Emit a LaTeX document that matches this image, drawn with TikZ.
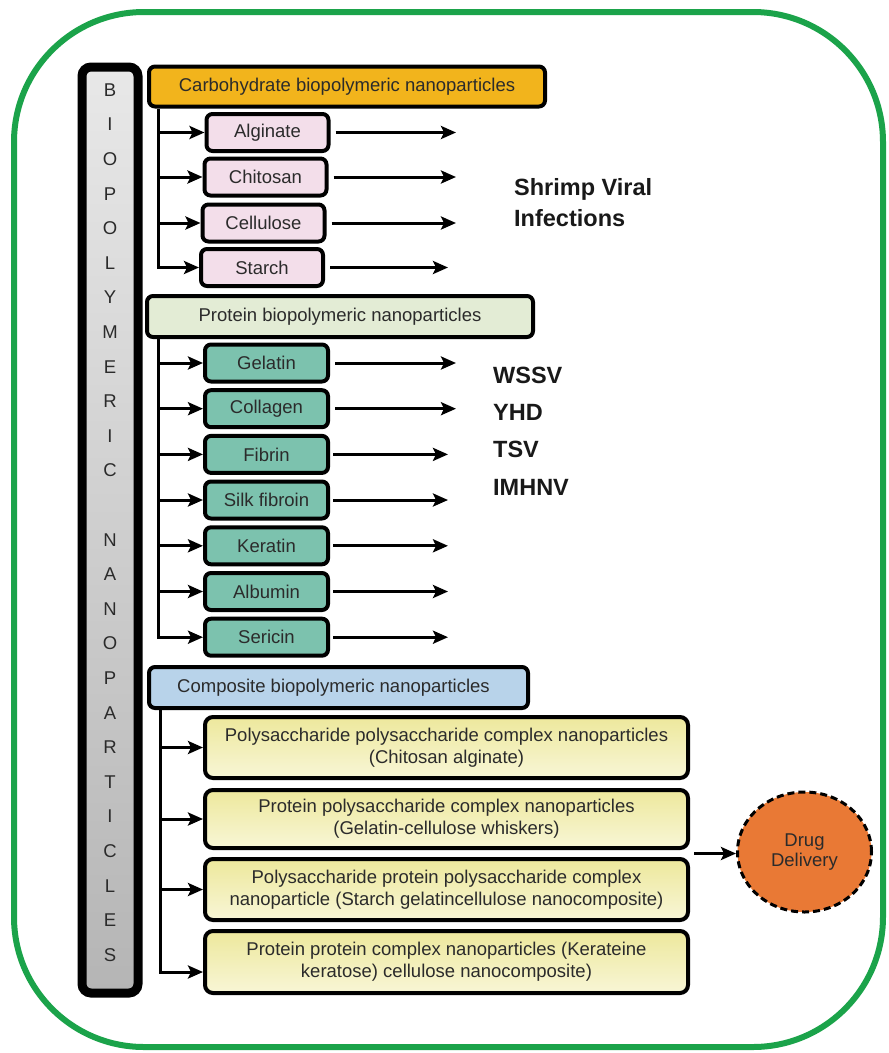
\documentclass[tikz,border=0pt]{standalone}
\usepackage{fontspec}
\setmainfont{Liberation Sans}
\usetikzlibrary{arrows.meta,calc,positioning,shapes.geometric}

\definecolor{framegreen}{HTML}{1BA34A}
\definecolor{textgray}{HTML}{2B2B2B}
\definecolor{carbfill}{HTML}{F2B41C}
\definecolor{pinkfill}{HTML}{F3DEEA}
\definecolor{protfill}{HTML}{E3ECD5}
\definecolor{tealfill}{HTML}{7CC2AE}
\definecolor{compfill}{HTML}{B8D3EA}
\definecolor{cplxtop}{HTML}{EDE89C}
\definecolor{cplxbot}{HTML}{F8F6D6}
\definecolor{drugfill}{HTML}{E97935}
\definecolor{barhi}{HTML}{E8E8E8}
\definecolor{barlo}{HTML}{B5B5B5}

\begin{document}
\begin{tikzpicture}[
  x=1pt, y=-1pt,
  font=\fontsize{18.5}{22}\selectfont,
  text=textgray,
  outerframe/.style={draw=framegreen, line width=6pt, rounded corners=130pt},
  barbox/.style={draw=black, line width=9pt, rounded corners=9pt,
                 top color=barhi, bottom color=barlo,
                 minimum width=56pt, minimum height=926pt, inner sep=0pt},
  head/.style={draw=black, line width=4pt, rounded corners=6pt,
               minimum height=40pt, inner sep=2pt},
  leaf/.style={draw=black, line width=4pt, rounded corners=6pt,
               minimum width=122pt, minimum height=37pt, inner sep=2pt},
  cplx/.style={draw=black, line width=4pt, rounded corners=8pt,
               minimum width=483pt, minimum height=61pt, align=center,
               top color=cplxtop, bottom color=cplxbot, inner sep=2pt},
  drugnode/.style={ellipse, draw=black, line width=3pt,
                   dash pattern=on 7pt off 4pt, fill=drugfill,
                   minimum width=134pt, minimum height=120pt, align=center,
                   font=\fontsize{18.5}{20}\selectfont},
  sig/.style={draw=black, line width=3pt,
              -{Stealth[length=15pt,width=13pt,inset=3pt]}},
  wire/.style={draw=black, line width=3pt},
  virus/.style={font=\fontsize{23.5}{31}\selectfont\bfseries,
                align=left, anchor=west, text=black!90, inner sep=0pt},
]
\useasboundingbox (0,0) rectangle (889,1053);

% ---------- outer frame ----------
\draw[outerframe] (14,12) rectangle (883,1047);

% ---------- vertical title bar ----------
\node[barbox] (bar) at (110,530) {};
\node[align=center, inner sep=0pt, font=\fontsize{18.5}{34.6}\selectfont,
      text=textgray] (title) at (110,522.5)
  {B\\I\\O\\P\\O\\L\\Y\\M\\E\\R\\I\\C\\[34.6pt]N\\A\\N\\O\\P\\A\\R\\T\\I\\C\\L\\E\\S};

% ---------- carbohydrate group ----------
\node[head, fill=carbfill, minimum width=396pt] (carb) at (347,86.5)
  {Carbohydrate biopolymeric nanoparticles};
\node[leaf, fill=pinkfill] (alg) at (267.5,132.5) {Alginate};
\node[leaf, fill=pinkfill] (chi) at (265.5,177) {Chitosan};
\node[leaf, fill=pinkfill] (cel) at (263.5,223) {Cellulose};
\node[leaf, fill=pinkfill] (sta) at (262,267.5) {Starch};

% ---------- protein group ----------
\node[head, fill=protfill, minimum width=386pt, minimum height=41pt] (prot) at (340,316.5)
  {Protein biopolymeric nanoparticles};
\node[leaf, fill=tealfill, minimum width=123pt] (gel) at (266.5,363) {Gelatin};
\node[leaf, fill=tealfill, minimum width=123pt] (col) at (266.5,408.7) {Collagen};
\node[leaf, fill=tealfill, minimum width=123pt] (fib) at (266.5,454.4) {Fibrin};
\node[leaf, fill=tealfill, minimum width=123pt] (silk) at (266.5,500) {Silk fibroin};
\node[leaf, fill=tealfill, minimum width=123pt] (ker) at (266.5,545.8) {Keratin};
\node[leaf, fill=tealfill, minimum width=123pt] (alb) at (266.5,591.5) {Albumin};
\node[leaf, fill=tealfill, minimum width=123pt] (ser) at (266.5,637.2) {Sericin};

% ---------- composite group ----------
\node[head, fill=compfill, minimum width=379pt, minimum height=41pt] (comp) at (338.5,687.5)
  {Composite biopolymeric nanoparticles\hspace*{10pt}};
\node[cplx] (cx1) at (446.5,747.5)
  {Polysaccharide polysaccharide complex nanoparticles\\(Chitosan alginate)};
\node[cplx, minimum height=58pt] (cx2) at (446.5,819)
  {Protein polysaccharide complex nanoparticles\\(Gelatin-cellulose whiskers)};
\node[cplx] (cx3) at (446.5,889.5)
  {Polysaccharide protein polysaccharide complex\\nanoparticle (Starch gelatincellulose nanocomposite)};
\node[cplx, minimum height=62pt] (cx4) at (446.5,962)
  {Protein protein complex nanoparticles (Kerateine\\keratose) cellulose nanocomposite)};

% ---------- outcome labels ----------
\node[virus] (shrimp) at (514,202.5) {Shrimp Viral\\Infections};
\node[virus, font=\fontsize{23.5}{37.3}\selectfont\bfseries] (viruses) at (493,431)
  {WSSV\\YHD\\TSV\\IMHNV};
\node[drugnode] (drug) at (804.5,852) {Drug\\Delivery};

% ---------- trunks and branch arrows ----------
\coordinate (carbtrunk) at ([xshift=11pt]carb.south west);
\draw[sig] (carbtrunk) -- (carbtrunk |- sta.west) -- (sta.west);
\draw[sig] (carbtrunk |- alg.west) -- (alg.west);
\draw[sig] (carbtrunk |- chi.west) -- (chi.west);
\draw[sig] (carbtrunk |- cel.west) -- (cel.west);

\coordinate (prottrunk) at ([xshift=13pt]prot.south west);
\draw[sig] (prottrunk) -- (prottrunk |- ser.west) -- (ser.west);
\draw[sig] (prottrunk |- gel.west) -- (gel.west);
\draw[sig] (prottrunk |- col.west) -- (col.west);
\draw[sig] (prottrunk |- fib.west) -- (fib.west);
\draw[sig] (prottrunk |- silk.west) -- (silk.west);
\draw[sig] (prottrunk |- ker.west) -- (ker.west);
\draw[sig] (prottrunk |- alb.west) -- (alb.west);

\coordinate (comptrunk) at ([xshift=13pt]comp.south west);
\draw[sig] (comptrunk) -- (comptrunk |- 0,972) -- ([yshift=-10pt]cx4.west);
\draw[sig] (comptrunk |- cx1.west) -- (cx1.west);
\draw[sig] (comptrunk |- cx2.west) -- (cx2.west);
\draw[sig] (comptrunk |- cx3.west) -- (cx3.west);

% ---------- outgoing arrows ----------
\coordinate (endlong) at (456,0);
\coordinate (endshort) at (448,0);
\draw[sig] ([xshift=5pt]alg.east) -- (alg.east -| endlong);
\draw[sig] ([xshift=5pt]chi.east) -- (chi.east -| endlong);
\draw[sig] ([xshift=5pt]cel.east) -- (cel.east -| endlong);
\draw[sig] ([xshift=5pt]sta.east) -- (sta.east -| endshort);
\draw[sig] ([xshift=5pt]gel.east) -- (gel.east -| endlong);
\draw[sig] ([xshift=5pt]col.east) -- (col.east -| endlong);
\draw[sig] ([xshift=3pt]fib.east) -- (fib.east -| endshort);
\draw[sig] ([xshift=3pt]silk.east) -- (silk.east -| endshort);
\draw[sig] ([xshift=3pt]ker.east) -- (ker.east -| endshort);
\draw[sig] ([xshift=3pt]alb.east) -- (alb.east -| endshort);
\draw[sig] ([xshift=3pt]ser.east) -- (ser.east -| endshort);

% ---------- drug delivery ----------
\coordinate (cxjoin) at ($(cx2.south east)!.5!(cx3.north east)$);
\draw[sig] ([xshift=4pt]cxjoin) -- (cxjoin -| drug.west);

\end{tikzpicture}
\end{document}
